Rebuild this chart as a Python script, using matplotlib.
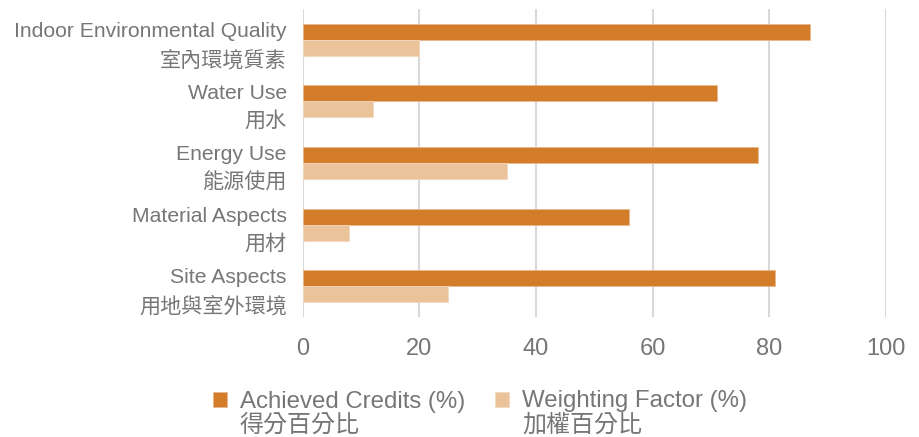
import matplotlib
import matplotlib.pyplot as plt
import matplotlib.transforms as mtransforms
import numpy as np

matplotlib.use('Agg')

# categories, top to bottom
categories_en = ['Indoor Environmental Quality', 'Water Use', 'Energy Use',
                 'Material Aspects', 'Site Aspects']
categories_zh = ['室內環境質素', '用水', '能源使用', '用材', '用地與室外環境']

achieved = [87, 71, 78, 56, 81]
weighting = [20, 12, 35, 8, 25]

series_labels = ['Achieved Credits (%)\n得分百分比', 'Weighting Factor (%)\n加權百分比']
x_ticks = [0, 20, 40, 60, 80, 100]

FONT = ['Liberation Sans', 'Noto Sans CJK TC', 'DejaVu Sans']
plt.rcParams['font.family'] = FONT
TEXT_COLOR = '#767676'
DPI = 100

fig = plt.figure(figsize=(9.2, 4.37), dpi=DPI)
ax = fig.add_axes([0.329, 0.275, 0.634, 0.704])

y = np.arange(len(categories_en))
h = 0.26
ax.barh(y - h / 2, achieved, height=h, color='#D37D2B', edgecolor='#E8B98C', linewidth=0.6,
        label=series_labels[0], zorder=3)
ax.barh(y + h / 2, weighting, height=h, color='#EAC39A', edgecolor='#F2D8BE', linewidth=0.6,
        label=series_labels[1], zorder=3)

ax.set_xlim(0, 100)
ax.set_ylim(len(categories_en) - 0.5, -0.5)
ax.set_xticks(x_ticks)
ax.set_yticks(y)
ax.set_yticklabels([f'{e}\n{z}' for e, z in zip(categories_en, categories_zh)],
                   fontsize=15.2, color=TEXT_COLOR, linespacing=1.52, ha='right')
# nudge the two-line category labels up a little
shift = mtransforms.ScaledTranslation(0, 1.5 / 72, fig.dpi_scale_trans)
for lbl in ax.get_yticklabels():
    lbl.set_transform(lbl.get_transform() + shift)
ax.tick_params(axis='x', labelsize=17, colors=TEXT_COLOR, length=0, pad=15.5)
ax.tick_params(axis='y', length=0, pad=11.5)

ax.grid(axis='x', color='#D9D9D9', linewidth=1.5, zorder=0)
for s in ax.spines.values():
    s.set_visible(False)

leg_fs = 17.3
leg = fig.legend(loc='lower center', bbox_to_anchor=(0.5217, 0.0), ncol=2, frameon=False,
                 fontsize=leg_fs, handlelength=0.58, handleheight=0.58, handletextpad=0.55,
                 columnspacing=1.25, borderpad=0, borderaxespad=0)
for t in leg.get_texts():
    t.set_color(TEXT_COLOR)
    t.set_linespacing(1.12)

# put the legend squares next to the first (English) line
fig.canvas.draw()
fs_px = leg_fs * DPI / 72
for patch, txt in zip(leg.legend_handles, leg.get_texts()):
    tb = txt.get_window_extent()
    hb = patch.get_window_extent()
    target = tb.y1 - 0.37 * fs_px
    dy = target - (hb.y0 + hb.y1) / 2
    patch.set_y(patch.get_y() + dy * 72 / DPI)

fig.savefig('out.png', dpi=DPI)
